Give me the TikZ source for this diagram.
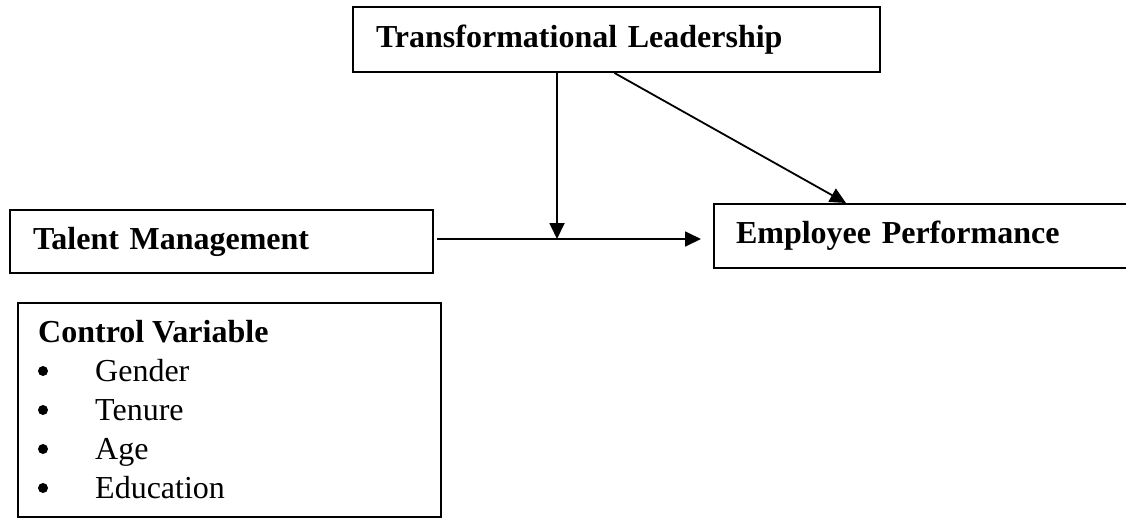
\documentclass[tikz,border=0pt]{standalone}
\usepackage{fontspec}
\setmainfont{Liberation Serif}
\usetikzlibrary{arrows.meta}

\tikzset{
  box/.style={draw, line width=2pt, anchor=north west, inner ysep=0pt, align=left,
    font=\fontsize{32}{38}\selectfont\bfseries},
  link/.style={line width=1.8pt, -{Triangle[width=15pt,length=16pt]}},
  item/.style={anchor=base west, inner sep=0pt, font=\fontsize{32}{38}\selectfont}
}

\begin{document}
\begin{tikzpicture}[x=1pt,y=-1pt]
\useasboundingbox (0,0) rectangle (1126,517);

\node[box, minimum height=65pt, inner xsep=23pt, text width=481pt] (transf) at (352,6) {Transformational Leadership};
\node[box, minimum height=63pt, inner xsep=23pt, text width=377pt] (talent) at (9,209) {Talent Management};
\node[box, minimum height=64pt, inner xsep=22pt, text width=376pt] (perf) at (713,203) {Employee Performance};
\node[box, minimum width=423pt, minimum height=214pt] (control) at (17,302) {};

\node[item, font=\fontsize{32}{38}\selectfont\bfseries] (ctrltitle) at (38,342) {Control Variable};
\foreach \var [count=\i] in {Gender,Tenure,Age,Education} {
  \node[item] (var\i) at (95,{342+39*\i}) {\var};
  \fill (43,{332+39*\i}) circle[radius=5pt];
}

\coordinate (mod) at (557,239);
\coordinate (tmout) at (437,239);
\coordinate (epin) at (701,239);
\draw[link] (tmout) -- (epin);
\draw[link] (transf.south -| mod) -- (mod);
\draw[link] ([xshift=-2pt]transf.south) -- ([xshift=-78pt]perf.north);
\end{tikzpicture}
\end{document}
